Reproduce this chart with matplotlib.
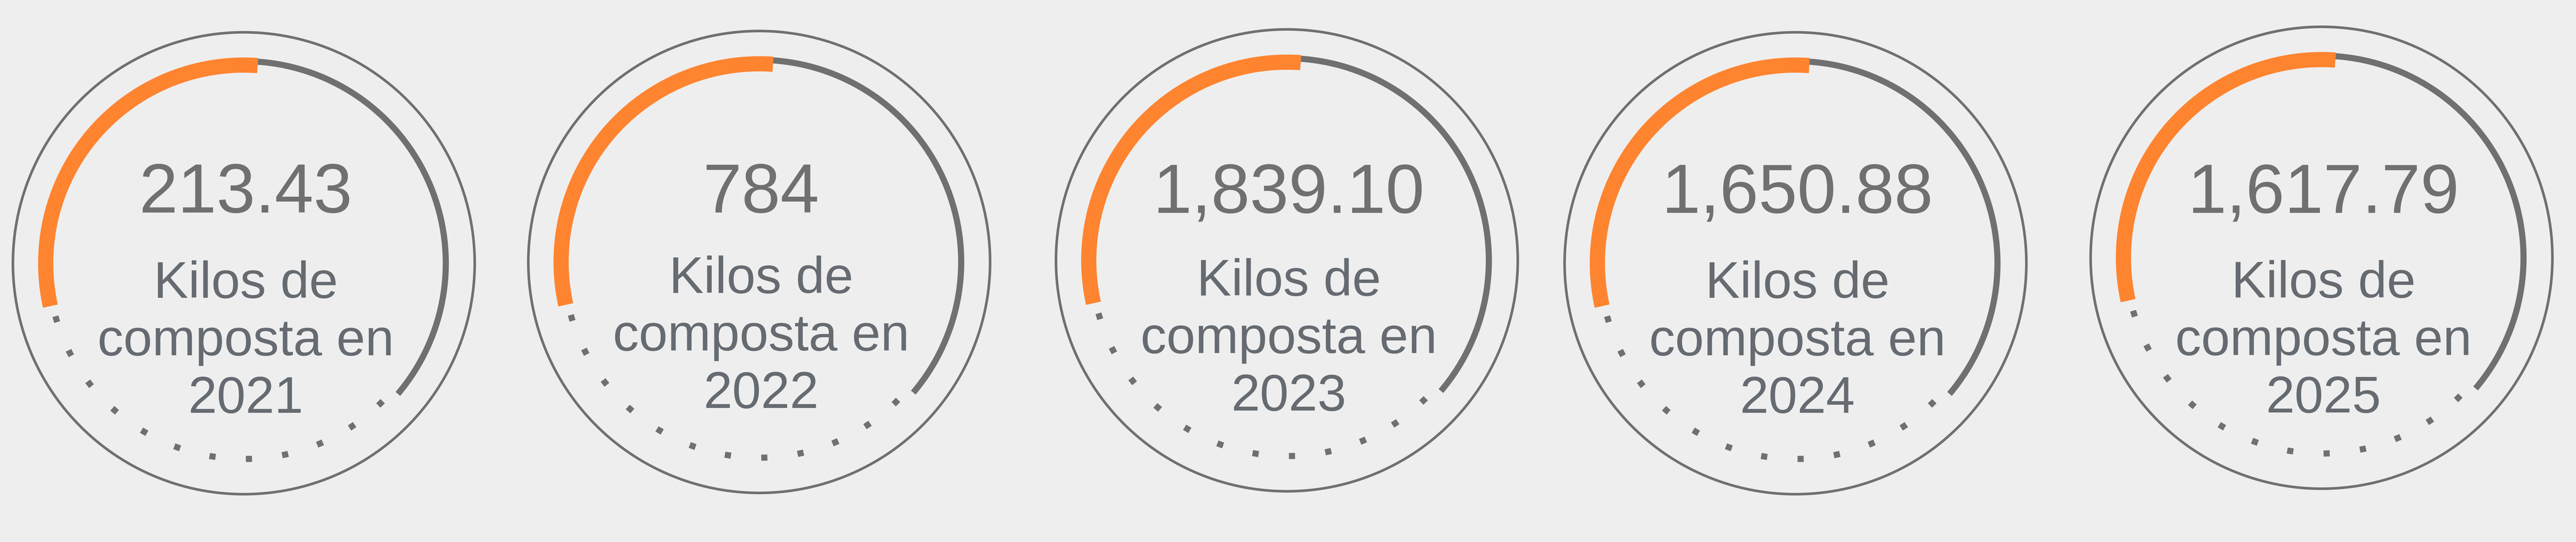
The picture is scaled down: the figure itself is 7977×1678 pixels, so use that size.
import matplotlib
matplotlib.use("Agg")
import matplotlib.pyplot as plt
from matplotlib.patches import Circle, Wedge

# data: kilos de composta por año
years  = [2021, 2022, 2023, 2024, 2025]
values = [213.43, 784, 1839.10, 1650.88, 1617.79]
label  = "Kilos de\ncomposta en\n{}"

# layout (pixels, y measured from top)
W, H      = 7977, 1678
cx        = [755, 2351, 3985, 5560, 7189]
cy        = [815, 811, 806, 815, 798]
lab_shift = [0, -15, -7, 0, -1]
bg        = '#eeeeee'
grey      = '#707070'
orange    = '#fe8430'
txt_num   = '#707070'
txt_lab   = '#656b71'


def fmt(v):
    if float(v).is_integer():
        return f"{int(v):,}"
    return f"{v:,.2f}"


fig = plt.figure(figsize=(W / 100, H / 100), dpi=100, facecolor=bg)
ax = fig.add_axes([0, 0, 1, 1])
ax.set_xlim(0, W)
ax.set_ylim(0, H)
ax.set_aspect('equal')
ax.axis('off')
ax.set_facecolor(bg)

for i, (yr, v) in enumerate(zip(years, values)):
    x0, y0 = cx[i], H - cy[i]
    # outer thin ring
    ax.add_patch(Circle((x0, y0), 715, fill=False, lw=5.8, ec=grey))
    # orange arc + grey track
    ax.add_patch(Wedge((x0, y0), 637, 86, 192.5, width=47, fc=orange, ec='none'))
    ax.add_patch(Wedge((x0, y0), 635, -40.3, 86, width=19, fc=grey, ec='none'))
    # dotted part
    for k in range(12):
        a = 196.6 + k * 10.7
        ax.add_patch(Wedge((x0, y0), 615.5, a - 0.9, a + 0.9, width=19, fc=grey, ec='none'))
    # texts
    ax.text(x0 + 6, H - 658, fmt(v), ha='center', va='baseline',
            fontsize=155.5, color=txt_num, family='Liberation Sans')
    for j, line in enumerate(label.format(yr).split('\n')):
        ax.text(x0 + 6, H - (922 + 178 * j + lab_shift[i]), line, ha='center', va='baseline',
                fontsize=115.5, color=txt_lab, family='Liberation Sans')

fig.savefig('out.png', dpi=100, facecolor=bg)
